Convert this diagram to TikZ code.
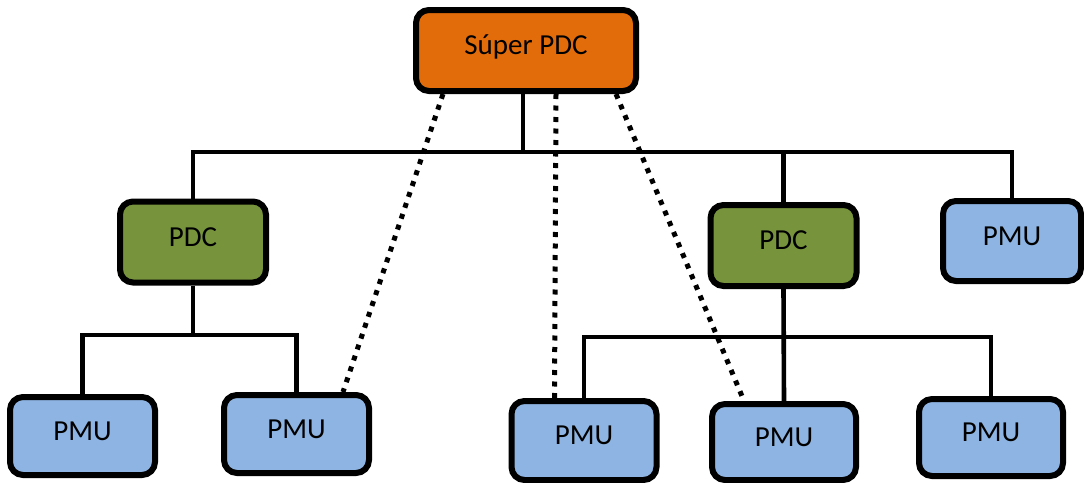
\documentclass[tikz,border=0pt]{standalone}
\usepackage{fontspec}
\setmainfont{Carlito}
\definecolor{supC}{RGB}{227,108,10}
\definecolor{pdcC}{RGB}{119,147,60}
\definecolor{pmuC}{RGB}{141,180,226}
\begin{document}
\begin{tikzpicture}[x=1pt,y=-1pt,
  box/.style={draw=black, line width=6pt, rounded corners=13pt,
    font=\fontsize{29}{31}\selectfont, text height=18.5pt, text depth=10pt, inner sep=0pt},
  pmubox/.style={box, fill=pmuC, minimum width=145pt, minimum height=78pt},
  pdcbox/.style={box, fill=pdcC, minimum width=146pt, minimum height=81pt},
  link/.style={line width=4.6pt},
  dotline/.style={line width=5pt, dash pattern=on 5pt off 6.5pt}]
\useasboundingbox (0,0) rectangle (1084,482);

\node[box, fill=supC, minimum width=220pt, minimum height=81pt] (sup) at (526,50.5) {Súper PDC};
\node[pdcbox] (pdcL) at (193,242) {PDC};
\node[pdcbox] (pdcR) at (783.5,245.5) {PDC};
\node[pmubox, minimum width=138pt, minimum height=80pt] (pmuR) at (1012,241) {PMU};
\node[pmubox] (pmu1) at (82.5,436) {PMU};
\node[pmubox] (pmu2) at (296.5,434) {PMU};
\node[pmubox, minimum height=79pt] (pmu3) at (584,440.5) {PMU};
\node[pmubox, minimum width=144pt, minimum height=76pt] (pmu4) at (784,442) {PMU};
\node[pmubox, minimum width=144pt, minimum height=77pt] (pmu5) at (991,437.5) {PMU};

\coordinate (bT) at (523,152);
\coordinate (bL) at (193,335);
\coordinate (bR) at (784,337);

\draw[link] (sup.south -| bT) -- (bT);
\draw[link] (pdcL.north) |- (bT) -| (pmuR.north);
\draw[link] (pdcR.north) -- (pdcR.north |- bT);

\draw[link] (pdcL.south) -- (bL);
\draw[link] (pmu1.north) |- (bL) -| (pmu2.north);

\draw[link] (pdcR.south) -- (pmu4.north);
\draw[link] (pmu3.north) |- (bR) -| (pmu5.north);

\draw[dotline] ([xshift=30pt]sup.south west) -- ([xshift=-29pt]pmu2.north east);
\draw[dotline] ([xshift=30pt]sup.south) -- ([xshift=46pt]pmu3.north west);
\draw[dotline] ([xshift=-23pt]sup.south east) -- ([xshift=35pt]pmu4.north west);
\end{tikzpicture}
\end{document}
